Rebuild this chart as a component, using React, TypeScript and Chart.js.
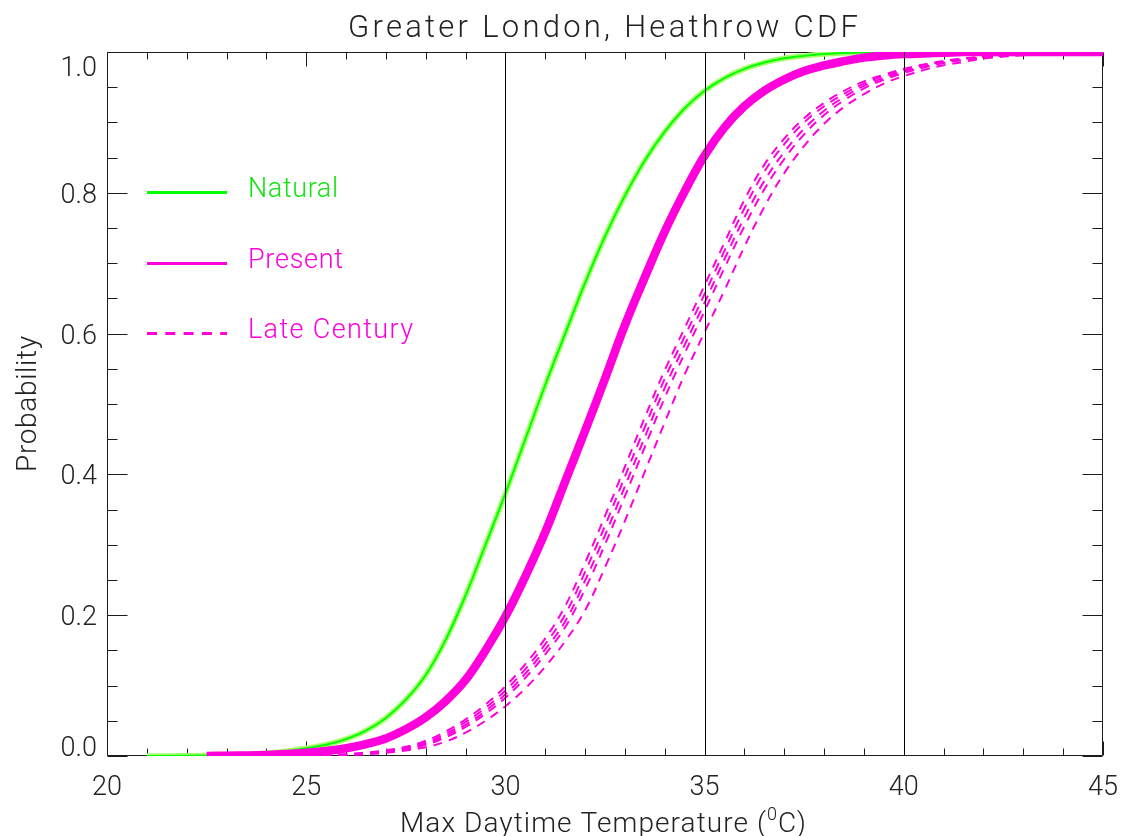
import React, { useEffect, useRef } from 'react';
import { Chart, registerables } from 'chart.js';

Chart.register(...registerables);

// ---- data ----
const temps = [21, 22, 22.5, 23, 23.5, 24, 24.5, 25, 25.5, 26, 26.5, 27, 27.5, 28, 28.5, 29, 29.5, 30, 30.5, 31, 31.5, 32, 32.5, 33, 33.5, 34, 34.5, 35, 35.5, 36, 36.5, 37, 37.5, 38, 38.5, 39, 39.5, 40, 40.5, 41, 41.5, 42, 43, 44, 45];

const natural = [0, 0.0003, 0.0007, 0.0013, 0.0024, 0.004, 0.0068, 0.011, 0.016, 0.024, 0.036, 0.054, 0.08, 0.115, 0.165, 0.228, 0.3, 0.373, 0.45, 0.527, 0.6, 0.672, 0.738, 0.796, 0.846, 0.887, 0.92, 0.945, 0.963, 0.976, 0.985, 0.991, 0.9945, 0.997, 0.9985, 0.9993, 0.9998, 1, 1, 1, 1, 1, 1, 1, 1];

const present = [null, null, 0, 0.0004, 0.0008, 0.0015, 0.0027, 0.0045, 0.007, 0.011, 0.017, 0.025, 0.038, 0.055, 0.078, 0.108, 0.15, 0.198, 0.255, 0.318, 0.39, 0.462, 0.536, 0.612, 0.68, 0.745, 0.802, 0.853, 0.893, 0.923, 0.945, 0.961, 0.973, 0.981, 0.987, 0.992, 0.995, 0.997, 0.998, 0.999, 1, 1, 1, 1, 1];

const lateCentury1 = [null, null, null, null, null, null, null, 0.0003, 0.0013, 0.0026, 0.0049, 0.0082, 0.0131, 0.0216, 0.0348, 0.052, 0.0732, 0.099, 0.1305, 0.167, 0.213, 0.2745, 0.341, 0.411, 0.481, 0.548, 0.608, 0.6686, 0.7294, 0.79, 0.84, 0.877, 0.906, 0.9277, 0.9448, 0.9583, 0.9677, 0.9761, 0.9823, 0.9872, 0.9909, 0.9936, 0.9973, 0.999, 1];
const lateCentury2 = [null, null, null, null, null, null, null, 0.0001, 0.0011, 0.0022, 0.0043, 0.0074, 0.0117, 0.0192, 0.0316, 0.048, 0.0684, 0.093, 0.1235, 0.159, 0.201, 0.2615, 0.327, 0.397, 0.467, 0.536, 0.596, 0.6562, 0.7178, 0.778, 0.83, 0.869, 0.9, 0.9229, 0.9406, 0.9551, 0.9659, 0.9742, 0.9809, 0.9864, 0.9903, 0.9932, 0.9971, 0.999, 1];
const lateCentury3 = [null, null, null, null, null, null, null, 0, 0.0009, 0.0019, 0.0038, 0.0067, 0.0106, 0.0173, 0.0288, 0.0444, 0.064, 0.0876, 0.117, 0.1515, 0.191, 0.249, 0.3135, 0.383, 0.453, 0.523, 0.584, 0.644, 0.7058, 0.7652, 0.817, 0.858, 0.891, 0.9165, 0.9361, 0.9519, 0.9632, 0.9723, 0.9795, 0.9854, 0.9896, 0.9927, 0.9966, 0.9988, 1];
const lateCentury4 = [null, null, null, null, null, null, null, 0, 0.0007, 0.0017, 0.0034, 0.0061, 0.0098, 0.0159, 0.0264, 0.0412, 0.06, 0.0828, 0.111, 0.1445, 0.183, 0.237, 0.3005, 0.369, 0.439, 0.509, 0.572, 0.632, 0.6934, 0.7526, 0.805, 0.848, 0.8831, 0.9105, 0.9313, 0.9482, 0.9607, 0.9703, 0.9779, 0.9842, 0.9888, 0.9921, 0.996, 0.9986, 1];
const lateCentury5 = [null, null, null, null, null, null, null, 0, 0.0002, 0.0012, 0.0024, 0.0046, 0.0078, 0.0124, 0.0204, 0.0332, 0.05, 0.0708, 0.096, 0.127, 0.163, 0.207, 0.268, 0.334, 0.404, 0.474, 0.542, 0.602, 0.6616, 0.7236, 0.78, 0.828, 0.8666, 0.898, 0.9218, 0.9402, 0.9552, 0.9658, 0.9744, 0.9812, 0.9858, 0.9906, 0.9954, 0.9974, 0.9992];

const xMajorTicks = [20, 25, 30, 35, 40, 45];
const xTickLabels = ['20', '25', '30', '35', '40', '45'];
const yMajorTicks = [0, 0.2, 0.4, 0.6, 0.8, 1.0];
const yTickLabels = ['0.0', '0.2', '0.4', '0.6', '0.8', '1.0'];
const refLines = [30, 35, 40];
const titleText = 'Greater London, Heathrow CDF';
const xTitleParts = ['Max Daytime Temperature (', '0', 'C)'];
const yTitleText = 'Probability';
const legendLabels = ['Natural', 'Present', 'Late Century'];

// ---- styles ----
const GREEN = 'rgb(0,255,0)';
const GREEN_TEXT = 'rgb(20,228,20)';
const LIGHT_GREEN = 'rgb(168,255,110)';
const MAGENTA = 'rgb(255,0,220)';
const AXIS = '#1c1c1c';
const FONT = 'Roboto, "DejaVu Sans", sans-serif';

const pts = (vals: (number | null)[]) => temps.map((t, i) => ({ x: t, y: vals[i] }));

function drawFitted(ctx: CanvasRenderingContext2D, text: string, x: number, y: number, target: number, font: string, color: string, center: boolean) {
  ctx.font = font;
  (ctx as any).letterSpacing = '0px';
  const w = ctx.measureText(text).width;
  const n = Array.from(text).length;
  const s = n > 1 ? (target - w) / (n - 1) : 0;
  (ctx as any).letterSpacing = s + 'px';
  ctx.fillStyle = color;
  ctx.textAlign = 'left';
  ctx.textBaseline = 'alphabetic';
  ctx.fillText(text, center ? x - target / 2 : x, y);
  (ctx as any).letterSpacing = '0px';
}

const idlPlugin = {
  id: 'idlFrame',
  beforeDatasetsDraw(chart: any) {
    const { ctx, chartArea: a, scales } = chart;
    const xs = scales.x, ys = scales.y;
    const L = Math.round(a.left) + 0.5, R = Math.round(a.right) - 0.5;
    const T = Math.round(a.top) + 0.5, B = Math.round(a.bottom) - 0.5;
    ctx.save();
    ctx.strokeStyle = AXIS;
    ctx.lineWidth = 1;
    ctx.beginPath();
    ctx.rect(L, T, R - L, B - T);
    ctx.stroke();
    const seg = (x1: number, y1: number, x2: number, y2: number) => {
      ctx.beginPath(); ctx.moveTo(x1, y1); ctx.lineTo(x2, y2); ctx.stroke();
    };
    for (let v = 20; v <= 45; v += 1) {
      const px = Math.round(xs.getPixelForValue(v)) + 0.5;
      const len = v % 5 === 0 ? 14 : 7;
      seg(px, B, px, B - len);
      seg(px, T, px, T + len);
    }
    for (let i = 0; i <= 20; i++) {
      const py = Math.round(ys.getPixelForValue(i * 0.05)) + 0.5;
      const len = i % 4 === 0 ? 20 : 10;
      seg(L, py, L + len, py);
      seg(R, py, R - len, py);
    }
    ctx.restore();
  },
  afterDatasetsDraw(chart: any) {
    const { ctx, chartArea: a, scales } = chart;
    const xs = scales.x, ys = scales.y;
    ctx.save();
    // reference vertical lines
    ctx.strokeStyle = '#000';
    ctx.lineWidth = 1;
    refLines.forEach((v) => {
      const px = Math.round(xs.getPixelForValue(v)) + 0.5;
      ctx.beginPath(); ctx.moveTo(px, a.top); ctx.lineTo(px, a.bottom); ctx.stroke();
    });
    // tick labels
    const tickFont = `300 27px ${FONT}`;
    ctx.font = tickFont;
    ctx.fillStyle = '#222';
    ctx.textBaseline = 'alphabetic';
    ctx.textAlign = 'center';
    xMajorTicks.forEach((v, i) => {
      ctx.fillText(xTickLabels[i], xs.getPixelForValue(v), a.bottom + 39);
    });
    ctx.textAlign = 'right';
    yMajorTicks.forEach((v, i) => {
      let c = ys.getPixelForValue(v);
      c = Math.max(a.top + 14, Math.min(a.bottom - 10, c));
      ctx.fillText(yTickLabels[i], a.left - 10, c + 10);
    });
    // title
    drawFitted(ctx, titleText, 603, 37, 510, `300 31px ${FONT}`, '#222', true);
    // x-axis title with superscript
    {
      const mainFont = `300 28px ${FONT}`;
      const supFont = `300 18px ${FONT}`;
      const target = 406;
      ctx.font = mainFont; (ctx as any).letterSpacing = '0px';
      const w0 = ctx.measureText(xTitleParts[0]).width;
      const w2 = ctx.measureText(xTitleParts[2]).width;
      ctx.font = supFont;
      const w1 = ctx.measureText(xTitleParts[1]).width;
      const n = xTitleParts.join('').length;
      const s = (target - (w0 + w1 + w2)) / (n - 1);
      let x = 603 - target / 2;
      const base = 832;
      ctx.fillStyle = '#222';
      ctx.textAlign = 'left';
      (ctx as any).letterSpacing = s + 'px';
      ctx.font = mainFont;
      ctx.fillText(xTitleParts[0], x, base);
      x += w0 + s * xTitleParts[0].length;
      ctx.font = supFont;
      ctx.fillText(xTitleParts[1], x, base - 12);
      x += w1 + s * xTitleParts[1].length;
      ctx.font = mainFont;
      ctx.fillText(xTitleParts[2], x, base);
      (ctx as any).letterSpacing = '0px';
    }
    // y-axis title
    ctx.save();
    ctx.translate(36, 404);
    ctx.rotate(-Math.PI / 2);
    drawFitted(ctx, yTitleText, 0, 0, 136, `300 28px ${FONT}`, '#222', true);
    ctx.restore();
    // legend
    const legFont = `300 27px ${FONT}`;
    const rows = [
      { y: 192.5, color: GREEN, text: GREEN_TEXT, dash: [] as number[], w: 90 },
      { y: 263.5, color: MAGENTA, text: MAGENTA, dash: [] as number[], w: 95 },
      { y: 333.5, color: MAGENTA, text: MAGENTA, dash: [10, 8.3], w: 165 },
    ];
    rows.forEach((r, i) => {
      ctx.strokeStyle = r.color;
      ctx.lineWidth = 3;
      ctx.setLineDash(r.dash);
      ctx.beginPath(); ctx.moveTo(147, r.y); ctx.lineTo(227, r.y); ctx.stroke();
      ctx.setLineDash([]);
      drawFitted(ctx, legendLabels[i], 248, r.y + 4.5, r.w, legFont, r.text, false);
    });
    ctx.restore();
  },
};

export default function App() {
  const ref = useRef<HTMLCanvasElement>(null);
  useEffect(() => {
    if (!ref.current) return;
    const dashed = (vals: (number | null)[], label: string) => ({
      label,
      data: pts(vals),
      borderColor: MAGENTA,
      borderWidth: 2,
      borderDash: [9, 7],
      pointRadius: 0,
      tension: 0.4,
      spanGaps: false,
      order: 0,
    });
    const chart = new Chart(ref.current, {
      type: 'line',
      data: {
        datasets: [
          dashed(lateCentury1, 'Late Century 1'),
          dashed(lateCentury2, 'Late Century 2'),
          dashed(lateCentury3, 'Late Century 3'),
          dashed(lateCentury4, 'Late Century 4'),
          dashed(lateCentury5, 'Late Century 5'),
          { label: 'Present', data: pts(present), borderColor: MAGENTA, borderWidth: 8.5, pointRadius: 0, tension: 0.4, order: 1 },
          { label: 'Natural', data: pts(natural), borderColor: GREEN, borderWidth: 2, pointRadius: 0, tension: 0.4, order: 2 },
          { label: 'Natural band', data: pts(natural), borderColor: LIGHT_GREEN, borderWidth: 5.5, pointRadius: 0, tension: 0.4, order: 3 },
        ] as any,
      },
      options: {
        animation: false,
        responsive: false,
        devicePixelRatio: 1,
        events: [],
        layout: { padding: { left: 107, top: 52, right: 23, bottom: 80 } },
        scales: {
          x: { type: 'linear', min: 20, max: 45, display: false },
          y: { type: 'linear', min: 0, max: 1, display: false },
        },
        plugins: { legend: { display: false }, tooltip: { enabled: false }, title: { display: false } },
      },
      plugins: [idlPlugin],
    });
    return () => chart.destroy();
  }, []);
  return (
    <div style={{ position: 'absolute', left: 0, top: 0, width: 1126, height: 836, background: '#fff' }}>
      <canvas ref={ref} width={1126} height={836} style={{ display: 'block', width: 1126, height: 836 }} />
    </div>
  );
}
